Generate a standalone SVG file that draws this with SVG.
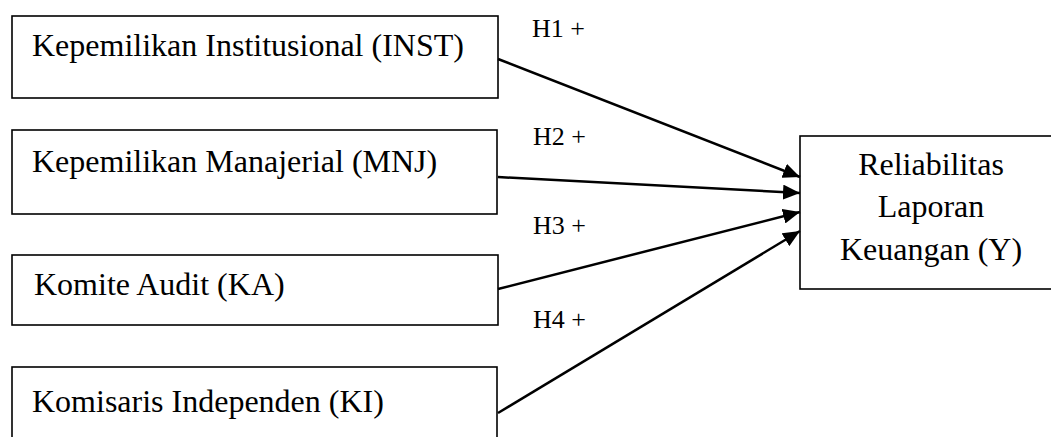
<svg xmlns="http://www.w3.org/2000/svg" width="1051" height="437" viewBox="0 0 1051 437">
<style>
.box{fill:#fff;stroke:#000;stroke-width:1.6}
.t{font-family:"Liberation Serif","Times New Roman",serif;font-size:32px;fill:#000}
.h{font-family:"Liberation Serif","Times New Roman",serif;font-size:26px;fill:#000}
.c{stroke:#000;stroke-width:2.5;fill:none;marker-end:url(#arr)}
</style>
<defs>
<marker id="arr" markerUnits="userSpaceOnUse" markerWidth="17" markerHeight="15" refX="17" refY="7.5" orient="auto">
<path d="M0,0 L17,7.5 L0,15 Z" fill="#000"/>
</marker>
</defs>
<rect width="1051" height="437" fill="#fff"/>
<g id="inst">
<rect class="box" x="12" y="16" width="486" height="82"/>
<text class="t" x="32" y="56">Kepemilikan Institusional (INST)</text>
</g>
<g id="mnj">
<rect class="box" x="12" y="130" width="485" height="84"/>
<text class="t" x="32" y="172">Kepemilikan Manajerial (MNJ)</text>
</g>
<g id="ka">
<rect class="box" x="12" y="255" width="486" height="70"/>
<text class="t" x="34" y="295">Komite Audit (KA)</text>
</g>
<g id="ki">
<rect class="box" x="12" y="367" width="485" height="100"/>
<text class="t" x="32" y="412">Komisaris Independen (KI)</text>
</g>
<g id="y">
<rect class="box" x="800" y="136" width="263" height="153"/>
<text class="t" x="931" y="175" text-anchor="middle">Reliabilitas</text>
<text class="t" x="931" y="217" text-anchor="middle">Laporan</text>
<text class="t" x="931" y="260" text-anchor="middle">Keuangan (Y)</text>
</g>
<g id="connectors">
<line class="c" x1="498" y1="59" x2="800" y2="177"/>
<line class="c" x1="498" y1="177" x2="800" y2="193"/>
<line class="c" x1="498" y1="289" x2="800" y2="212"/>
<line class="c" x1="498" y1="413" x2="800" y2="231"/>
<text class="h" x="532" y="37">H1 +</text>
<text class="h" x="533" y="145">H2 +</text>
<text class="h" x="533" y="234">H3 +</text>
<text class="h" x="533" y="328">H4 +</text>
</g>
</svg>
